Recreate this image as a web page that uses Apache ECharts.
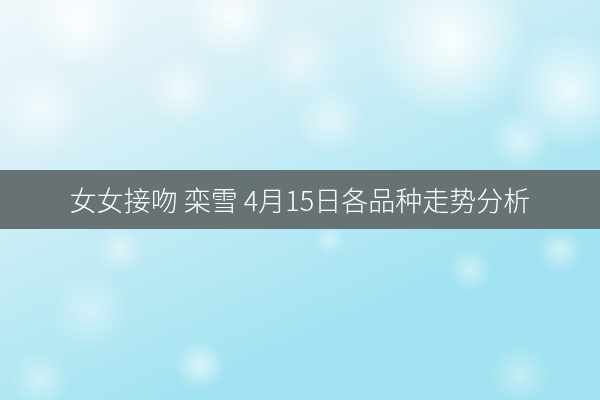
<!DOCTYPE html>
<html>
<head>
<meta charset="utf-8">
<script src="https://cdn.jsdelivr.net/npm/echarts@6/dist/echarts.min.js"></script>
<style>
html,body{margin:0;padding:0;background:#fff;}
#chart{width:600px;height:400px;}
</style>
</head>
<body>
<div id="chart"></div>
<script>
// Text content of the image (no numeric series in the reference)
const titleWords = ['女女接吻', '栾雪', '4月15日各品种走势分析'];
const titleText = titleWords.join(' ');

// Soft highlight blobs of the watery background: [cx, cy, rx, ry, alpha]
const blobs = [
  [80, 20, 110, 50, 0.85], [230, 15, 140, 45, 0.8], [450, 40, 190, 80, 0.9],
  [570, 90, 90, 60, 0.75], [40, 110, 80, 45, 0.6], [180, 90, 100, 35, 0.6],
  [330, 120, 110, 35, 0.5], [520, 140, 70, 30, 0.55], [300, 60, 120, 40, 0.5],
  [120, 250, 90, 25, 0.45], [90, 310, 100, 40, 0.4], [200, 365, 60, 25, 0.6],
  [470, 270, 110, 22, 0.45], [560, 250, 60, 22, 0.5], [520, 375, 45, 30, 0.35],
  [40, 380, 70, 30, 0.4], [330, 240, 80, 15, 0.4]
];

const chart = echarts.init(document.getElementById('chart'), null, {renderer: 'canvas'});

const graphics = [{
  type: 'rect', z: 0,
  shape: {x: 0, y: 0, width: 600, height: 400},
  style: {
    fill: new echarts.graphic.LinearGradient(0, 0, 0.3, 1, [
      {offset: 0, color: '#f1f8fb'},
      {offset: 0.35, color: '#d8f0f7'},
      {offset: 0.7, color: '#b9e9f4'},
      {offset: 1, color: '#a2e3f1'}
    ])
  }
}];

blobs.forEach(function (b) {
  graphics.push({
    type: 'ellipse', z: 1,
    shape: {cx: b[0], cy: b[1], rx: b[2], ry: b[3]},
    style: {
      fill: new echarts.graphic.RadialGradient(0.5, 0.5, 0.5, [
        {offset: 0, color: 'rgba(255,255,255,' + b[4] + ')'},
        {offset: 1, color: 'rgba(255,255,255,0)'}
      ])
    }
  });
});

graphics.push({
  type: 'rect', z: 5,
  shape: {x: 0, y: 170, width: 600, height: 59},
  style: {fill: 'rgba(100,109,111,0.97)'}
});
graphics.push({
  type: 'text', z: 6,
  x: 300, y: 201,
  style: {
    text: titleText,
    fill: '#ffffff',
    font: '300 27px "Noto Sans CJK SC", "Noto Sans", sans-serif',
    align: 'center',
    verticalAlign: 'middle'
  }
});

chart.setOption({
  animation: false,
  graphic: {elements: graphics}
});
</script>
</body>
</html>
